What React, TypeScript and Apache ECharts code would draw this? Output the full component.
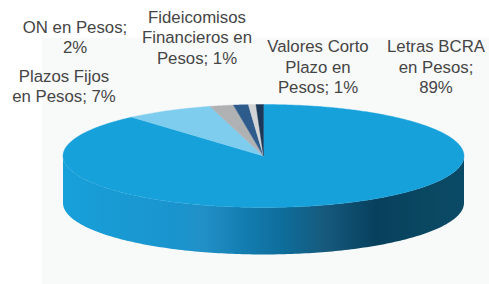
import React, { useEffect, useRef } from 'react';
import * as echarts from 'echarts';

// Data
const categories = [
  'Letras BCRA en Pesos',
  'Plazos Fijos en Pesos',
  'ON en Pesos',
  'Fideicomisos Financieros en Pesos',
  'Otros',
  'Valores Corto Plazo en Pesos',
];
const values = [88.6, 7.1, 1.9, 1.2, 0.6, 0.6];
const labelTexts = [
  'Letras BCRA\nen Pesos;\n89%',
  'Plazos Fijos\nen Pesos; 7%',
  'ON en Pesos;\n2%',
  'Fideicomisos\nFinancieros en\nPesos; 1%',
  '',
  'Valores Corto\nPlazo en\nPesos; 1%',
];

// Styling / layout
const colors = ['#17a1db', '#7ecdee', '#b0b1b3', '#2d5b8c', '#d3d4d6', '#1b3858'];
const labelPos: (number[] | null)[] = [[436, 67], [64, 86.5], [75, 37.5], [197, 37.5], null, [318, 67]];
const CX = 263.5;
const CY = 156;
const RX = 200.5;
const RY = 51.5;
const DEPTH = 47;

const sideGradient = {
  type: 'linear',
  x: CX - RX,
  y: 0,
  x2: CX + RX,
  y2: 0,
  global: true,
  colorStops: [
    { offset: 0, color: '#17a0da' },
    { offset: 0.3, color: '#1b93cc' },
    { offset: 0.35, color: '#2190c7' },
    { offset: 0.45, color: '#137db1' },
    { offset: 0.55, color: '#0e6d9a' },
    { offset: 0.65, color: '#165a7e' },
    { offset: 0.78, color: '#07405d' },
    { offset: 0.9, color: '#0a4761' },
    { offset: 1, color: '#0b4a66' },
  ],
};

export default function App() {
  const ref = useRef<HTMLDivElement>(null);
  useEffect(() => {
    document.body.style.margin = '0';
    const chart = echarts.init(ref.current!, undefined, { renderer: 'svg' });
    const total = values.reduce((a, b) => a + b, 0);
    const pt = (deg: number, dy = 0) => {
      const r = (deg * Math.PI) / 180;
      return [CX + RX * Math.sin(r), CY - RY * Math.cos(r) + dy];
    };
    const renderItem = (params: any, api: any) => {
      const i = params.dataIndex;
      const v = api.value(0);
      let start = 0;
      for (let k = 0; k < i; k++) start += values[k];
      const a0 = (start / total) * 360;
      const a1 = ((start + v) / total) * 360;
      const children: any[] = [];
      const s0 = Math.max(a0, 90);
      const s1 = Math.min(a1, 270);
      if (s1 > s0) {
        const upper: number[][] = [];
        const lower: number[][] = [];
        const m = Math.max(2, Math.ceil(s1 - s0));
        for (let k = 0; k <= m; k++) {
          const d = s0 + ((s1 - s0) * k) / m;
          upper.push(pt(d));
          lower.push(pt(d, DEPTH));
        }
        children.push({
          type: 'polygon',
          shape: { points: upper.concat(lower.reverse()) },
          style: { fill: sideGradient },
          z2: 1,
        });
      }
      const top: number[][] = [[CX, CY]];
      const n = Math.max(2, Math.ceil((a1 - a0) * 2));
      for (let k = 0; k <= n; k++) top.push(pt(a0 + ((a1 - a0) * k) / n));
      children.push({
        type: 'polygon',
        shape: { points: top },
        style: { fill: colors[i], stroke: colors[i], lineWidth: 0.4 },
        z2: 10,
      });
      return { type: 'group', children };
    };

    const texts: any[] = [];
    labelTexts.forEach((t, i) => {
      const p = labelPos[i];
      if (!t || !p) return;
      texts.push({
        type: 'text',
        x: p[0],
        y: p[1],
        z: 10,
        style: {
          text: t,
          fill: '#454545',
          fontFamily: 'Liberation Sans',
          fontSize: 16.8,
          textAlign: 'center',
          textVerticalAlign: 'middle',
          lineHeight: 20.5,
        },
      });
    });

    chart.setOption({
      animation: false,
      backgroundColor: '#ffffff',
      graphic: [
        {
          type: 'rect',
          z: -10,
          shape: { x: 42, y: 38, width: 447, height: 246 },
          style: { fill: '#f8f9f9' },
        },
        ...texts,
      ],
      series: [
        {
          type: 'custom',
          coordinateSystem: 'none',
          name: 'Composición',
          renderItem,
          data: values.map((v, i) => ({ name: categories[i], value: [v] })),
        },
      ],
    });
    return () => chart.dispose();
  }, []);
  return <div ref={ref} style={{ position: 'absolute', left: 0, top: 0, width: 489, height: 284 }} />;
}
